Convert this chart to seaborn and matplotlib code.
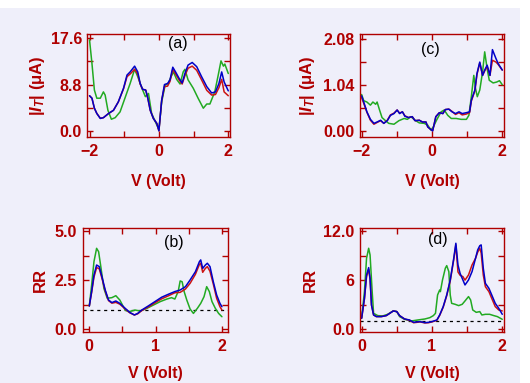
import numpy as np
import matplotlib
matplotlib.use("Agg")
import matplotlib.pyplot as plt
import pandas as pd
import seaborn as sns
from matplotlib.patches import Rectangle
from matplotlib.ticker import FixedLocator

# panel (a): |I_T| vs V, full bias range
va_b = [-2.0, -1.93, -1.86, -1.79, -1.69, -1.60, -1.45, -1.31, -1.17, -1.02, -0.92, -0.83, -0.70, -0.61,
        -0.54, -0.47, -0.38, -0.32, -0.25, -0.16, -0.06, 0.0, 0.08, 0.16, 0.25, 0.32, 0.40, 0.48, 0.58,
        0.67, 0.75, 0.84, 0.96, 1.09, 1.23, 1.38, 1.52, 1.63, 1.73, 1.81, 1.88, 2.0]
ia_b = [6.67, 6.2, 4.3, 3.3, 2.35, 2.5, 3.3, 3.9, 5.5, 8.1, 10.6, 11.2, 12.3, 11.2, 9.0, 7.9, 7.75, 6.2,
        3.9, 2.35, 1.4, 0.0, 5.8, 8.8, 9.0, 9.7, 12.1, 11.2, 10.0, 9.1, 10.9, 12.5, 13.0, 12.2, 10.3, 8.4,
        7.2, 7.4, 9.0, 11.2, 9.3, 7.6]
ia_r = [6.67, 6.2, 4.3, 3.3, 2.4, 2.5, 3.3, 3.9, 5.5, 8.0, 10.3, 10.8, 11.7, 10.8, 8.9, 7.9, 7.75, 6.2,
        3.9, 2.35, 1.4, 0.0, 5.8, 8.4, 8.5, 9.4, 11.7, 10.8, 9.7, 8.9, 10.5, 11.9, 12.3, 11.5, 9.7, 7.7,
        6.8, 6.9, 8.2, 9.8, 7.4, 6.67]
va_g = [-2.0, -1.93, -1.86, -1.79, -1.69, -1.60, -1.55, -1.47, -1.37, -1.26, -1.12, -0.98, -0.83, -0.70,
        -0.61, -0.49, -0.39, -0.30, -0.21, -0.06, 0.0, 0.08, 0.18, 0.27, 0.35, 0.42, 0.51, 0.61, 0.70,
        0.75, 0.84, 0.99, 1.13, 1.28, 1.38, 1.47, 1.61, 1.71, 1.79, 1.86, 1.90, 2.0]
ia_g = [17.3, 12.8, 7.75, 6.2, 6.2, 7.4, 6.8, 3.9, 2.2, 2.5, 3.6, 6.2, 9.0, 11.7, 10.3, 8.1, 6.5, 7.1,
        3.3, 1.1, 0.25, 5.5, 8.7, 9.0, 10.3, 11.2, 9.8, 8.9, 11.2, 11.7, 9.7, 8.1, 6.2, 4.3, 5.1, 5.1,
        7.4, 10.6, 13.3, 12.3, 12.7, 10.9]

# panel (c): |I_T| vs V, second system
vc_b = [-2.0, -1.94, -1.85, -1.75, -1.65, -1.56, -1.46, -1.37, -1.27, -1.18, -1.08, -0.99, -0.92, -0.84,
        -0.77, -0.67, -0.56, -0.48, -0.36, -0.27, -0.17, -0.12, -0.03, 0.02, 0.11, 0.21, 0.31, 0.38, 0.48,
        0.57, 0.67, 0.77, 0.86, 0.98, 1.07, 1.12, 1.22, 1.28, 1.36, 1.44, 1.50, 1.57, 1.65, 1.72, 1.82,
        1.88, 2.0]
ic_b = [0.79, 0.65, 0.43, 0.26, 0.17, 0.20, 0.24, 0.17, 0.23, 0.35, 0.39, 0.47, 0.39, 0.43, 0.33, 0.30,
        0.32, 0.23, 0.24, 0.20, 0.20, 0.09, 0.03, 0.0, 0.32, 0.41, 0.39, 0.48, 0.49, 0.43, 0.39, 0.43,
        0.39, 0.41, 0.43, 0.69, 0.92, 1.29, 1.55, 1.25, 1.37, 1.48, 1.25, 1.83, 1.63, 1.52, 1.37]
ic_r = [0.75, 0.62, 0.42, 0.24, 0.15, 0.19, 0.23, 0.17, 0.24, 0.36, 0.40, 0.47, 0.40, 0.43, 0.34, 0.30,
        0.32, 0.23, 0.24, 0.20, 0.20, 0.09, 0.03, 0.0, 0.32, 0.41, 0.39, 0.48, 0.49, 0.44, 0.37, 0.41,
        0.36, 0.38, 0.41, 0.67, 0.90, 1.27, 1.53, 1.25, 1.35, 1.45, 1.25, 1.59, 1.55, 1.50, 1.37]
vc_g = [-2.0, -1.94, -1.85, -1.75, -1.68, -1.60, -1.56, -1.49, -1.42, -1.32, -1.23, -1.08, -0.94, -0.79,
        -0.70, -0.60, -0.48, -0.36, -0.22, -0.12, -0.03, 0.04, 0.13, 0.26, 0.35, 0.45, 0.55, 0.69, 0.83,
        0.98, 1.05, 1.12, 1.19, 1.24, 1.29, 1.36, 1.44, 1.50, 1.57, 1.63, 1.74, 1.84, 1.92, 2.0]
ic_g = [0.82, 0.68, 0.65, 0.58, 0.65, 0.60, 0.65, 0.47, 0.30, 0.23, 0.17, 0.15, 0.23, 0.28, 0.26, 0.32,
        0.24, 0.18, 0.17, 0.13, 0.02, 0.09, 0.24, 0.43, 0.47, 0.35, 0.28, 0.28, 0.26, 0.26, 0.35, 0.77,
        1.25, 0.95, 0.77, 0.92, 1.33, 1.78, 1.40, 1.14, 1.08, 1.10, 1.13, 1.04]

# panel (b): RR vs V
vb_b = [0.0, 0.035, 0.07, 0.11, 0.15, 0.19, 0.24, 0.29, 0.34, 0.40, 0.46, 0.54, 0.61, 0.68, 0.73, 0.79,
        0.89, 0.99, 1.09, 1.19, 1.29, 1.37, 1.45, 1.52, 1.60, 1.66, 1.68, 1.71, 1.75, 1.78, 1.82, 1.87,
        1.92, 1.97, 2.0]
rb_b = [1.19, 1.92, 2.76, 3.27, 3.19, 2.68, 2.0, 1.49, 1.36, 1.44, 1.32, 1.07, 0.86, 0.73, 0.81, 0.98,
        1.19, 1.41, 1.63, 1.78, 1.92, 2.0, 2.17, 2.51, 2.93, 3.44, 3.53, 3.10, 3.27, 3.36, 3.19, 2.42,
        1.75, 1.32, 1.15]
rb_r = [1.19, 1.88, 2.65, 3.14, 3.08, 2.60, 1.95, 1.46, 1.33, 1.37, 1.28, 1.04, 0.84, 0.73, 0.79, 0.95,
        1.14, 1.35, 1.55, 1.70, 1.86, 1.88, 2.05, 2.34, 2.80, 3.30, 3.36, 2.90, 3.10, 3.19, 2.95, 2.30,
        1.58, 1.15, 0.98]
vb_g = [0.0, 0.035, 0.07, 0.11, 0.14, 0.17, 0.22, 0.27, 0.34, 0.40, 0.46, 0.54, 0.59, 0.64, 0.69, 0.77,
        0.87, 0.97, 1.07, 1.17, 1.24, 1.29, 1.34, 1.37, 1.40, 1.43, 1.47, 1.52, 1.57, 1.63, 1.68, 1.73,
        1.77, 1.81, 1.85, 1.90, 1.95, 2.0]
rb_g = [1.19, 2.25, 3.44, 4.12, 3.95, 3.27, 2.08, 1.58, 1.61, 1.71, 1.49, 0.98, 0.90, 0.93, 0.98, 0.93,
        1.07, 1.24, 1.41, 1.54, 1.61, 1.54, 1.92, 2.46, 2.42, 1.92, 1.49, 1.03, 0.81, 1.07, 1.32, 1.66,
        2.17, 1.92, 1.41, 1.07, 0.81, 0.64]

# panel (d): RR vs V, second system
vd_b = [0.0, 0.04, 0.07, 0.10, 0.12, 0.14, 0.17, 0.21, 0.28, 0.35, 0.40, 0.45, 0.50, 0.54, 0.61, 0.68,
        0.74, 0.83, 0.90, 0.95, 1.0, 1.07, 1.11, 1.16, 1.21, 1.26, 1.31, 1.34, 1.37, 1.40, 1.44, 1.47,
        1.52, 1.57, 1.62, 1.65, 1.68, 1.70, 1.73, 1.76, 1.81, 1.86, 1.90, 1.95, 2.0]
rd_b = [1.34, 3.78, 6.63, 7.53, 6.22, 2.97, 1.75, 1.55, 1.55, 1.67, 1.95, 2.24, 2.16, 1.67, 1.26, 1.14,
        0.85, 0.94, 0.81, 0.85, 0.94, 1.14, 1.75, 2.77, 4.19, 6.02, 8.67, 10.5, 7.85, 6.83, 6.02, 5.41,
        6.02, 7.04, 8.67, 9.68, 10.2, 10.3, 7.45, 5.61, 5.0, 3.99, 3.17, 2.56, 1.83]
rd_r = [1.34, 3.70, 6.45, 7.30, 6.10, 2.97, 1.75, 1.55, 1.55, 1.67, 1.95, 2.24, 2.16, 1.67, 1.26, 1.10,
        0.80, 0.90, 0.78, 0.80, 0.90, 1.10, 1.70, 2.70, 4.10, 5.90, 8.50, 10.3, 7.0, 6.60, 6.43, 6.0,
        6.63, 7.85, 8.67, 9.40, 9.90, 9.30, 6.63, 5.20, 4.60, 3.58, 2.77, 2.36, 2.24]
vd_g = [0.0, 0.04, 0.07, 0.10, 0.12, 0.15, 0.17, 0.23, 0.30, 0.37, 0.45, 0.50, 0.54, 0.61, 0.71, 0.80,
        0.90, 0.97, 1.02, 1.05, 1.08, 1.11, 1.12, 1.15, 1.19, 1.21, 1.24, 1.26, 1.28, 1.33, 1.38, 1.43,
        1.47, 1.52, 1.55, 1.58, 1.63, 1.68, 1.71, 1.76, 1.82, 1.88, 1.93, 2.0]
rd_g = [1.42, 4.6, 8.67, 9.89, 9.07, 4.6, 1.95, 1.67, 1.63, 1.83, 2.24, 2.16, 1.55, 1.22, 1.02, 1.14,
        1.26, 1.42, 1.67, 1.95, 4.19, 4.8, 4.6, 6.02, 7.45, 7.77, 7.04, 4.19, 3.17, 3.05, 2.89, 3.05,
        3.46, 3.99, 3.58, 2.36, 2.07, 2.16, 1.75, 1.83, 1.83, 1.67, 1.55, 1.22]

DARK = "#b00000"
BG = "#efeffa"
COLORS = {"green": "#22aa22", "red": "#cc1414", "blue": "#0000c8"}
FS = 11.5

sns.set_style("ticks")
plt.rcParams["font.family"] = ["Liberation Sans", "DejaVu Sans"]
plt.rcParams["mathtext.fontset"] = "custom"
plt.rcParams["mathtext.rm"] = "Liberation Sans:bold"
plt.rcParams["mathtext.it"] = "Liberation Sans:italic:bold"

fig = plt.figure(figsize=(5.3, 3.83), dpi=100)
fig.patch.set_facecolor("white")
fig.patches.append(Rectangle((0, 0), 520 / 530, 375 / 383, transform=fig.transFigure,
                             facecolor=BG, edgecolor="none", zorder=-10))


def make_df(curves):
    rows = []
    for name, (v, y) in curves.items():
        rows.append(pd.DataFrame({"V": v, "y": y, "set": name}))
    return pd.concat(rows, ignore_index=True)


panels = [
    # rect, data, xlim, ylim, x ticks, x minor, y ticks, y labels, y minor, ylabel, ylabel x, xlabel y, tag, tag pos, ref line
    ([0.165, 0.642, 0.269, 0.269],
     {"green": (va_g, ia_g), "red": (va_b, ia_r), "blue": (va_b, ia_b)},
     (-2.06, 2.05), (-1.2, 18.4), [-2, 0, 2], [-1, 1], [0, 8.8, 17.6], ["0.0", "8.8", "17.6"],
     [4.4, 13.2], r"$|I_T|$ (μA)", -0.285, -0.36, "(a)", (0.635, 0.913), False),
    ([0.679, 0.642, 0.272, 0.269],
     {"green": (vc_g, ic_g), "red": (vc_b, ic_r), "blue": (vc_b, ic_b)},
     (-2.05, 2.05), (-0.14, 2.18), [-2, 0, 2], [-1, 1], [0, 1.04, 2.08], ["0.00", "1.04", "2.08"],
     [0.52, 1.56], r"$|I_T|$ (μA)", -0.295, -0.36, "(c)", (0.49, 0.854), False),
    ([0.156, 0.134, 0.274, 0.270],
     {"green": (vb_g, rb_g), "red": (vb_b, rb_r), "blue": (vb_b, rb_b)},
     (-0.1, 2.09), (-0.12, 5.14), [0, 1, 2], [0.5, 1.5], [0, 2.5, 5.0], ["0.0", "2.5", "5.0"],
     [1.25, 3.75], "RR", -0.24, -0.335, "(b)", (0.63, 0.867), True),
    ([0.679, 0.134, 0.272, 0.270],
     {"green": (vd_g, rd_g), "red": (vd_b, rd_r), "blue": (vd_b, rd_b)},
     (-0.025, 2.025), (-0.29, 12.33), [0, 1, 2], [0.5, 1.5], [0, 6, 12], ["0.0", "6", "12.0"],
     [3, 9], "RR", -0.29, -0.335, "(d)", (0.54, 0.887), True),
]

for rect, curves, xlim, ylim, xt, xmin, yt, ytl, ymin, ylab, ylx, xly, tag, tagpos, ref in panels:
    ax = fig.add_axes(rect)
    ax.set_facecolor(BG)
    df = make_df(curves)
    sns.lineplot(data=df, x="V", y="y", hue="set", palette=COLORS, sort=False,
                 estimator=None, linewidth=1.1, legend=False, ax=ax)
    if ref:
        ax.axhline(1.0, color="black", linestyle=(0, (2.5, 3)), linewidth=0.9, zorder=0)
    ax.set_xlim(*xlim)
    ax.set_ylim(*ylim)
    ax.set_xticks(xt)
    ax.set_xticklabels([f"{t:g}".replace("-", "\u2212") for t in xt])
    ax.xaxis.set_minor_locator(FixedLocator(xmin))
    ax.set_yticks(yt)
    ax.set_yticklabels(ytl)
    ax.yaxis.set_minor_locator(FixedLocator(ymin))
    for s in ax.spines.values():
        s.set_color(DARK)
        s.set_linewidth(1.0)
    ax.tick_params(which="both", direction="in", length=4, width=1, color=DARK,
                   top=True, right=True, labelcolor=DARK, labelsize=FS)
    ax.tick_params(axis="x", pad=5)
    ax.tick_params(axis="y", pad=4)
    for lbl in ax.get_xticklabels() + ax.get_yticklabels():
        lbl.set_fontweight("bold")
    ax.set_xlabel("V (Volt)", color=DARK, fontsize=FS, fontweight="bold")
    ax.xaxis.set_label_coords(0.5, xly)
    ax.set_ylabel(ylab, color=DARK, fontsize=FS + 0.5, fontweight="bold")
    ax.yaxis.set_label_coords(ylx, 0.5)
    ax.text(tagpos[0], tagpos[1], tag, transform=ax.transAxes, ha="center", va="center",
            fontsize=FS, color="black")

fig.savefig("out.png", dpi=100)
